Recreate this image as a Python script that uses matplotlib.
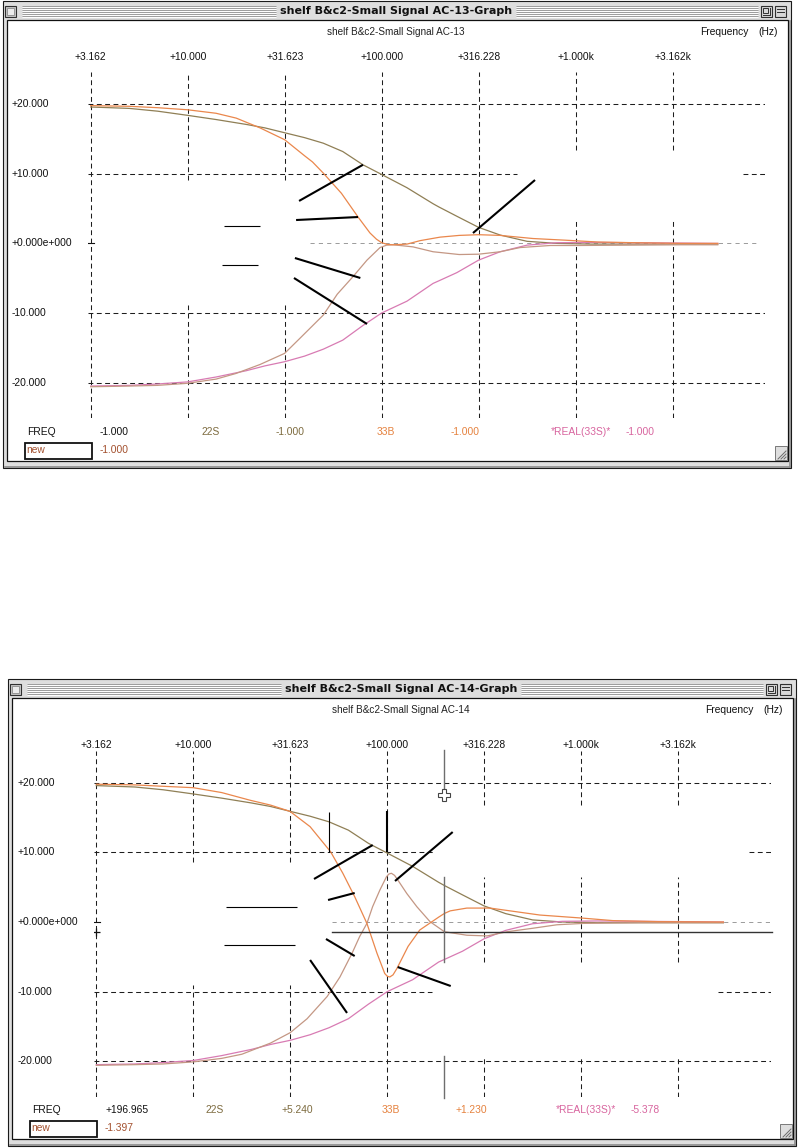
import matplotlib
matplotlib.use('Agg')
import matplotlib.pyplot as plt
from matplotlib.patches import Rectangle

plt.rcParams['font.family'] = ['Liberation Sans', 'DejaVu Sans']
plt.rcParams['lines.scale_dashes'] = False

# -------------------------------------------------------
# DATOS (leidos de las dos ventanas AC-13 / AC-14)
# -------------------------------------------------------
grid_freqs = [3.162, 10.0, 31.623, 100.0, 316.228, 1000.0, 3162.3]
grid_labels = ['+3.162', '+10.000', '+31.623', '+100.000', '+316.228', '+1.000k', '+3.162k']
db_ticks = [20, 10, 0, -10, -20]
db_labels = ['+20.000', '+10.000', '+0.000e+000', '-10.000', '-20.000']

# 22S y *REAL(33S)* (iguales en las dos graficas)
f_22s = [3.162, 5, 7, 10, 14, 20, 25, 31.6, 40, 50, 63, 80, 100, 135, 184, 197,
         244, 316, 408, 561, 800, 1200, 2000, 3500, 5400]
db_22s = [19.6, 19.4, 19.0, 18.4, 17.8, 17.1, 16.6, 15.9, 15.2, 14.4, 13.2, 11.3,
          9.9, 8.0, 5.7, 5.24, 3.9, 2.3, 1.2, 0.3, 0.0, -0.1, -0.1, -0.1, -0.1]
db_real = [-20.5, -20.4, -20.2, -19.9, -19.2, -18.3, -17.6, -17.0, -16.2, -15.2,
           -13.9, -11.8, -10.0, -8.3, -5.75, -5.38, -4.2, -2.4, -1.2, -0.25, 0.1,
           0.15, 0.1, 0.05, 0.0]

# AC-13
f_33b_13 = [3.162, 5, 7, 10, 14, 17.8, 23.6, 31.6, 40, 44, 50, 62, 75.5, 87, 94, 100,
            107, 115, 135, 158, 200, 251, 316, 408, 603, 900, 1300, 2000, 3500, 5400]
db_33b_13 = [19.8, 19.7, 19.5, 19.2, 18.7, 18.0, 16.6, 14.9, 12.6, 11.7, 10.1, 7.2,
             3.8, 1.5, 0.6, 0.1, -0.15, -0.2, -0.1, 0.4, 0.9, 1.15, 1.25, 1.15, 0.7,
             0.45, 0.2, 0.1, 0.0, 0.0]
f_new_13 = [3.162, 5, 7, 10, 14, 17.7, 23.6, 31.6, 38, 50, 59, 71, 84, 98, 106, 115,
            145, 184, 251, 316, 408, 516, 738, 1020, 2000, 3500, 5400]
db_new_13 = [-20.6, -20.5, -20.4, -20.1, -19.5, -18.7, -17.4, -15.8, -13.6, -10.3,
             -7.3, -4.8, -2.4, -0.6, -0.25, -0.2, -0.5, -1.2, -1.6, -1.55, -1.2, -0.6,
             -0.3, -0.3, -0.25, -0.2, -0.2]

# AC-14
f_33b_14 = [3.162, 5, 7, 10, 14, 19.6, 25, 31.5, 40, 51, 59, 68, 78.5, 88.5, 97, 100,
            103, 107, 112, 128, 147, 184, 197, 211, 257, 339, 612, 1023, 1455, 2512, 5400]
db_33b_14 = [19.8, 19.7, 19.5, 19.3, 18.6, 17.5, 16.8, 15.9, 13.7, 10.1, 7.0, 3.6,
             -0.2, -4.5, -7.4, -7.8, -7.9, -7.6, -6.7, -3.5, -1.15, 0.7, 1.23, 1.6,
             2.0, 2.0, 1.0, 0.55, 0.2, 0.05, 0.0]
f_new_14 = [3.162, 5, 7, 10, 14, 17.8, 25, 31.6, 38.6, 49, 57, 65.8, 72, 78.5, 84,
            91.6, 99, 102, 105, 109, 113.5, 126, 142, 166, 197, 257, 327, 414, 562, 748,
            1023, 2000, 5400]
db_new_14 = [-20.6, -20.5, -20.4, -20.1, -19.6, -19.0, -17.4, -15.9, -13.9, -10.7,
             -7.9, -4.5, -2.1, -0.2, 2.2, 4.6, 6.5, 6.9, 7.0, 6.7, 6.0, 4.1, 2.2, 0.05,
             -1.40, -1.9, -2.0, -1.4, -0.9, -0.4, -0.2, -0.1, -0.1]

# cursor AC-14
cursor_freq = 196.965
cursor_db = -1.397

# lineas de anotacion (freq, dB)
leaders_13_thick = [((37.5, 80.1), (6.1, 11.3)), ((36.2, 75.5), (3.36, 3.79)),
                    ((35.7, 77.6), (-2.1, -4.97)), ((35.3, 84.0), (-4.97, -11.58)),
                    ((295.5, 617), (1.49, 9.11))]
leaders_13_thin = [((15.4, 23.6), (2.5, 2.5)), ((15.0, 23.0), (-3.1, -3.1))]
leaders_14_thick = [((100.0, 100.0), (15.95, 10.06)), ((41.9, 84.1), (6.18, 11.06)),
                    ((109.6, 217.3), (5.89, 12.93)), ((49.5, 67.9), (3.16, 4.17)),
                    ((48.3, 67.9), (-2.44, -4.89)), ((40.0, 62.0), (-5.46, -13.07)),
                    ((113.1, 212.3), (-6.47, -9.2))]
leaders_14_thin = [((50.1, 50.1), (15.8, 10.06)), ((14.7, 34.2), (2.16, 2.16)),
                   ((14.4, 33.4), (-3.3, -3.3))]

# lecturas de la fila inferior
readout_names = ['FREQ', '22S', '33B', '*REAL(33S)*']
readout_13 = ['-1.000', '-1.000', '-1.000', '-1.000']
new_13 = '-1.000'
readout_14 = ['+196.965', '+5.240', '+1.230', '-5.378']
new_14 = '-1.397'

# -------------------------------------------------------
# ESTILO
# -------------------------------------------------------
c_22s, c_33b, c_real, c_new = '#8f7f55', '#ea874c', '#d87bb3', '#c49784'
txt_colors = ['#111111', '#7d6b3f', '#e5823f', '#d8659f']
txt_new = '#a3502e'
GRID = dict(color='#1e1e1e', lw=0.75, ls=(0, (3.5, 2.5)))
XLIM = (3.0624, 9458)
YLIM = (-25.09, 24.63)
FS = 7.4

W, H = 799, 1148
fig = plt.figure(figsize=(W / 100, H / 100), dpi=100)
bg = fig.add_axes([0, 0, 1, 1])
bg.set_xlim(0, W)
bg.set_ylim(H, 0)
bg.axis('off')


def draw_window(dx, dy, title, subtitle):
    x0, y0, x1, y1 = 3 + dx, 0.5 + dy, 791 + dx, 468 + dy
    bg.add_patch(Rectangle((x0, y0), x1 - x0, y1 - y0, fc='#dedede', ec='#1a1a1a', lw=0.8))
    # rayas de la barra de titulo
    for k in range(6):
        yy = y0 + 5 + 2 * k
        for xa, xb in [(22 + dx, 276 + dx), (516 + dx, 758 + dx)]:
            bg.plot([xa, xb], [yy, yy], color='#9c9c9c', lw=0.7, solid_capstyle='butt')
            bg.plot([xa, xb], [yy + 1, yy + 1], color='#ffffff', lw=0.7, solid_capstyle='butt')
    # caja de cierre y de zoom
    bg.add_patch(Rectangle((x0 + 2, y0 + 5), 11, 11, fc='#c8c8c8', ec='#303030', lw=0.8))
    bg.add_patch(Rectangle((x0 + 4, y0 + 7), 7, 7, fc='#ececec', ec='#8a8a8a', lw=0.6))
    for bx in (761 + dx, 775 + dx):
        bg.add_patch(Rectangle((bx, y0 + 5), 11, 11, fc='#d8d8d8', ec='#303030', lw=0.8))
    bg.add_patch(Rectangle((763 + dx, y0 + 7), 5, 5, fc='none', ec='#303030', lw=0.7))
    bg.plot([763 + dx, 770 + dx, 770 + dx], [y0 + 14, y0 + 14, y0 + 7], color='#303030', lw=0.7)
    for yy in (y0 + 8.5, y0 + 11.5):
        bg.plot([777 + dx, 784 + dx], [yy, yy], color='#303030', lw=0.7)
    bg.text(396 + dx, y0 + 10.5, title, ha='center', va='center', fontsize=8,
            fontweight='bold', family='DejaVu Sans', color='#111111')
    # area de contenido
    bg.add_patch(Rectangle((7 + dx, 20 + dy), 781, 441, fc='white', ec='#111111', lw=0.9))
    bg.plot([x1 - 1.5, x1 - 1.5], [y0 + 20, y1 - 1], color='#8a8a8a', lw=1.2)
    bg.plot([x0 + 2, x1 - 1], [y1 - 1.5, y1 - 1.5], color='#8a8a8a', lw=1.2)
    # agarre de redimension
    bg.add_patch(Rectangle((775 + dx, 446 + dy), 12, 14, fc='#dedede', ec='#666666', lw=0.6))
    for k in range(3):
        bg.plot([778 + dx + 3 * k, 786 + dx], [459 + dy, 451 + dy + 3 * k],
                color='#6a6a6a', lw=0.7)
    bg.text(327 + dx, 32 + dy, subtitle, ha='left', va='center', fontsize=7.2, color='#222222')
    bg.text(700 + dx, 32 + dy, 'Frequency', ha='left', va='center', fontsize=FS, color='#111111')
    bg.text(758 + dx, 32 + dy, '(Hz)', ha='left', va='center', fontsize=FS, color='#111111')


def readouts(dx, dy, values, new_value):
    name_x = [27, 201, 377, 551]
    val_x = [100, 276, 451, 626]
    for nm, v, nx, vx, col in zip(readout_names, values, name_x, val_x, txt_colors):
        bg.text(nx + dx, 432 + dy, nm, ha='left', va='center', fontsize=FS, color=col)
        bg.text(vx + dx, 432 + dy, v, ha='left', va='center', fontsize=FS, color=col)
    bg.add_patch(Rectangle((24.5 + dx, 443 + dy), 67.5, 16, fc='none', ec='#111111', lw=1.3))
    bg.text(26 + dx, 450 + dy, 'new', ha='left', va='center', fontsize=FS, color=txt_new)
    bg.text(100 + dx, 450 + dy, new_value, ha='left', va='center', fontsize=FS, color=txt_new)


def graph_axes(dx, dy, label_gap):
    x0, y0, x1, y1 = 88 + dx, 72 + dy, 765 + dx, 418 + dy
    ax = fig.add_axes([x0 / W, 1 - y1 / H, (x1 - x0) / W, (y1 - y0) / H])
    ax.set_xscale('log')
    ax.set_xlim(*XLIM)
    ax.set_ylim(*YLIM)
    ax.axis('off')
    ax.patch.set_alpha(0)
    for f, lab in zip(grid_freqs, grid_labels):
        ax.text(f, 1 + label_gap / (y1 - y0), lab, transform=ax.get_xaxis_transform(),
                ha='center', va='center', fontsize=FS, color='#111111')
    for d, lab in zip(db_ticks, db_labels):
        ax.text(-76 / (x1 - x0), d, lab, transform=ax.get_yaxis_transform(),
                ha='left', va='center', fontsize=FS, color='#111111')
    return ax


def draw_grid(ax, vgaps, hsegs):
    for f, gaps in zip(grid_freqs, vgaps):
        lo = YLIM[0]
        for g0, g1 in sorted(gaps) + [(YLIM[1], YLIM[1])]:
            ax.plot([f, f], [lo, g0], zorder=1, **GRID)
            lo = g1
    for d, segs in zip(db_ticks, hsegs):
        for a, b in segs:
            ax.plot([a, b], [d, d], zorder=1, **GRID)
    ax.plot([2.92, 3.3], [0, 0], color='#111111', lw=0.8, zorder=1)


def draw_curves(ax, f_33b, db_33b, f_new, db_new, zero_seg):
    ax.plot(zero_seg, [0, 0], color='#8c8c8c', lw=0.6, ls=(0, (3, 3)), zorder=2, clip_on=False)
    ax.plot(f_22s, db_22s, color=c_22s, lw=0.9, zorder=3)
    ax.plot(f_22s, db_real, color=c_real, lw=0.9, zorder=3)
    ax.plot(f_new, db_new, color=c_new, lw=0.9, zorder=3)
    ax.plot(f_33b, db_33b, color=c_33b, lw=0.9, zorder=3)


def draw_leaders(ax, thick, thin):
    for fs, ds in thick:
        ax.plot(fs, ds, color='#000000', lw=1.5, zorder=4, solid_capstyle='butt')
    for fs, ds in thin:
        ax.plot(fs, ds, color='#000000', lw=0.8, zorder=4, solid_capstyle='butt')


# -------------------------------------------------------
# VENTANA AC-13
# -------------------------------------------------------
draw_window(0, 0, 'shelf B&c2-Small Signal AC-13-Graph', 'shelf B&c2-Small Signal AC-13')
readouts(0, 0, readout_13, new_13)
ax13 = graph_axes(0, 0, 14.5)
full = [XLIM]
draw_grid(ax13,
          [[], [(-8.85, 9.11)], [(-8.85, 9.11)], [], [], [(3.65, 13.4)], [(3.65, 13.4)]],
          [full, [(XLIM[0], 498), (7300, XLIM[1])], [], full, full])
draw_curves(ax13, f_33b_13, db_33b_13, f_new_13, db_new_13, [42.7, 8912])
draw_leaders(ax13, leaders_13_thick, leaders_13_thin)

# -------------------------------------------------------
# VENTANA AC-14
# -------------------------------------------------------
draw_window(5, 678, 'shelf B&c2-Small Signal AC-14-Graph', 'shelf B&c2-Small Signal AC-14')
readouts(5, 678, readout_14, new_14)
ax14 = graph_axes(5.6, 678.6, 5.6)
g3 = [(6.47, 16.81), (-19.54, -5.75)]
draw_grid(ax14,
          [[], [(-9.05, 8.62)], [(-9.05, 8.62)], [], g3, g3, g3],
          [full, [(XLIM[0], 176), (7300, XLIM[1])], [], [(XLIM[0], 170), (5066, XLIM[1])], full])
draw_curves(ax14, f_33b_14, db_33b_14, f_new_14, db_new_14, [51.9, 9600])
draw_leaders(ax14, leaders_14_thick, leaders_14_thin)

# cursor
ax14.plot([51.9, 9600], [cursor_db, cursor_db], color='#333333', lw=1.0, zorder=5, clip_on=False)
for d0, d1 in [(6.47, -5.75), (24.7, 18.25), (-19.25, -25.3)]:
    ax14.plot([cursor_freq, cursor_freq], [d0, d1], color='#6e6e6e', lw=1.0, zorder=5, clip_on=False)
ax14.plot([cursor_freq], [18.25], marker='P', ms=8, mfc='white', mec='#444444', mew=0.8,
          zorder=6, clip_on=False)
ax14.plot([3.162], [cursor_db], marker='+', ms=6, color='#111111', mew=0.9, zorder=6)

fig.savefig('out.png', dpi=100)
